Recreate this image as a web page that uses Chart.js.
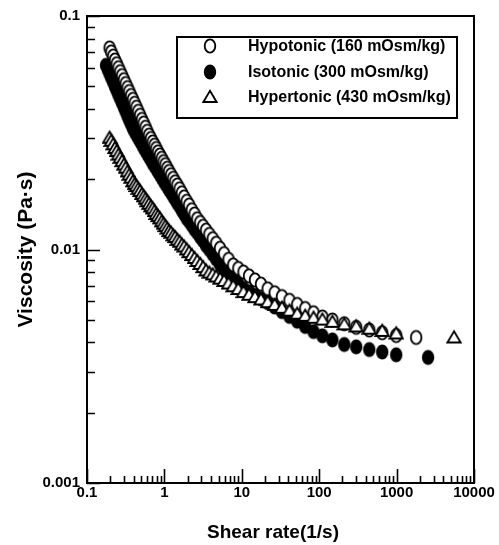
<!DOCTYPE html>
<html>
<head>
<meta charset="utf-8">
<script src="https://cdn.jsdelivr.net/npm/chart.js@4/dist/chart.umd.min.js"></script>
<style>
html,body{margin:0;padding:0;background:#fff;}
#wrap{position:relative;width:499px;height:545px;}
canvas{display:block;}
</style>
</head>
<body>
<div id="wrap"><canvas id="c" width="499" height="545"></canvas></div>
<script>
// ---- data ----
const shearRate = [0.196,0.206,0.218,0.230,0.242,0.255,0.269,0.284,0.300,0.316,
  0.334,0.352,0.371,0.392,0.413,0.436,0.460,0.485,0.512,0.540,
  0.570,0.601,0.634,0.669,0.706,0.745,0.786,0.829,0.875,0.923,
  0.974,1.03,1.09,1.15,1.22,1.30,1.38,1.47,1.57,1.68,
  1.80,1.94,2.09,2.26,2.45,2.66,2.90,3.16,3.46,3.81,
  4.21,4.67,5.23,5.91,6.74,7.75,9.0,10.5,12.4,14.8,
  17.7,21.6,26.6,33.0,41.3,52.0,66.0,84.5,110,148,
  211,301,444,652,988];

const hypotonicVisc = [0.0730,0.0702,0.0674,0.0648,0.0625,0.0601,0.0578,0.0556,0.0534,0.0514,
  0.0494,0.0475,0.0457,0.0440,0.0423,0.0407,0.0391,0.0376,0.0361,0.0348,
  0.0334,0.0321,0.0309,0.0299,0.0289,0.0280,0.0271,0.0262,0.0254,0.0246,
  0.0238,0.0231,0.0223,0.0216,0.0209,0.0202,0.0195,0.0189,0.0182,0.0175,
  0.0168,0.0161,0.0155,0.0148,0.0142,0.01355,0.01306,0.01258,0.01211,0.01161,
  0.01113,0.01064,0.01013,0.00961,0.00908,0.00859,0.00830,0.00801,0.00771,0.00741,
  0.00711,0.00679,0.00653,0.00629,0.00606,0.00582,0.00559,0.00536,0.00514,0.00499,
  0.00481,0.00464,0.00452,0.00440,0.00428];

const isotonicVisc = [0.0566,0.0544,0.0521,0.0499,0.0480,0.0460,0.0442,0.0424,0.0406,0.0390,
  0.0373,0.0358,0.0344,0.0330,0.0320,0.0310,0.0300,0.0291,0.0282,0.0273,
  0.0265,0.0257,0.0249,0.0242,0.0234,0.0228,0.0222,0.0215,0.0209,0.0203,
  0.0197,0.0191,0.0186,0.0180,0.0175,0.0169,0.0164,0.0158,0.0153,0.0147,
  0.0142,0.0136,0.0132,0.0127,0.0122,0.0118,0.0113,0.0109,0.0104,0.00999,
  0.00954,0.00909,0.00863,0.00820,0.00785,0.00750,0.00714,0.00681,0.00659,0.00637,
  0.00615,0.00592,0.00567,0.00542,0.00517,0.00493,0.00468,0.00445,0.00427,0.00410,
  0.00392,0.00383,0.00373,0.00364,0.00354];

const hypertonicVisc = [0.0301,0.0292,0.0282,0.0272,0.0264,0.0255,0.0247,0.0239,0.0231,0.0224,
  0.0216,0.0209,0.0203,0.0196,0.0191,0.0187,0.0182,0.0178,0.0173,0.0169,
  0.0165,0.0161,0.0157,0.0153,0.0150,0.0146,0.0142,0.0139,0.0136,0.0132,
  0.0129,0.0126,0.0123,0.0120,0.0118,0.0115,0.0113,0.0110,0.0108,0.0105,
  0.0103,0.0100,0.00974,0.00947,0.00920,0.00893,0.00867,0.00840,0.00813,0.00796,
  0.00782,0.00766,0.00750,0.00733,0.00715,0.00696,0.00677,0.00657,0.00640,0.00625,
  0.00611,0.00595,0.00579,0.00563,0.00547,0.00531,0.00520,0.00510,0.00501,0.00490,
  0.00478,0.00468,0.00458,0.00448,0.00437];

// extra isotonic points at the lowest rates
const isotonicLowRate = [0.176, 0.186];
const isotonicLowVisc = [0.0615, 0.0589];
// single last point of each series (hypotonic, isotonic, hypertonic)
const finalRate = [1790, 2550, 5520];
const finalVisc = [0.00420, 0.00345, 0.00420];

const seriesLabels = ['Hypotonic (160 mOsm/kg)', 'Isotonic (300 mOsm/kg)', 'Hypertonic (430 mOsm/kg)'];
const xTickValues = [0.1, 1, 10, 100, 1000, 10000];
const yTickValues = [0.001, 0.01, 0.1];
const minorSteps = [2, 3, 4, 5, 6, 7, 8, 9];

// ---- build points ----
function pts(xs, ys) { return xs.map((x, i) => ({x: x, y: ys[i]})); }
const hypoPts = pts(shearRate, hypotonicVisc).concat(pts([finalRate[0]], [finalVisc[0]]));
const isoPts = pts(isotonicLowRate, isotonicLowVisc).concat(pts(shearRate, isotonicVisc), pts([finalRate[1]], [finalVisc[1]]));
const hyperPts = pts(shearRate, hypertonicVisc).concat(pts([finalRate[2]], [finalVisc[2]]));

const FONT = '"Liberation Sans", Arial, Helvetica, sans-serif';

// ---- marker images (slightly tall ellipses as in the scan) ----
function makeMarker(kind) {
  const c = document.createElement('canvas');
  const W = 16, H = 18;
  c.width = W; c.height = H;
  const g = c.getContext('2d');
  g.lineWidth = 1.8;
  g.strokeStyle = '#000';
  if (kind === 'open') {
    g.beginPath(); g.ellipse(W / 2, H / 2, 5.3, 6.6, 0, 0, Math.PI * 2);
    g.fillStyle = '#fff'; g.fill(); g.stroke();
  } else if (kind === 'filled') {
    g.beginPath(); g.ellipse(W / 2, H / 2, 6.2, 7.4, 0, 0, Math.PI * 2);
    g.fillStyle = '#000'; g.fill();
  } else {
    g.beginPath();
    g.moveTo(W / 2, H / 2 - 6.2);
    g.lineTo(W / 2 + 6.6, H / 2 + 5.0);
    g.lineTo(W / 2 - 6.6, H / 2 + 5.0);
    g.closePath();
    g.fillStyle = '#fff'; g.fill(); g.stroke();
  }
  return c;
}
const markerOpen = makeMarker('open');
const markerFilled = makeMarker('filled');
const markerTri = makeMarker('tri');

function isDecade(v) { const l = Math.log10(v); return Math.abs(l - Math.round(l)) < 1e-6; }
function decadeLabel(v, list) {
  if (!isDecade(v)) return '';
  const hit = list.find(t => Math.abs(Math.log10(t) - Math.log10(v)) < 1e-6);
  return hit === undefined ? '' : String(hit);
}

const frameTicks = {
  id: 'frameTicks',
  afterDatasetsDraw(chart) {
    const ctx = chart.ctx, a = chart.chartArea;
    const xs = chart.scales.x, ys = chart.scales.y;
    ctx.save();
    ctx.strokeStyle = '#000';
    ctx.lineWidth = 1.6;
    ctx.beginPath();
    xTickValues.forEach((d, i) => {
      let p = Math.round(xs.getPixelForValue(d)) + 0.5;
      ctx.moveTo(p, a.bottom); ctx.lineTo(p, a.bottom - 14);
      if (i < xTickValues.length - 1) minorSteps.forEach(m => {
        p = Math.round(xs.getPixelForValue(d * m)) + 0.5;
        ctx.moveTo(p, a.bottom); ctx.lineTo(p, a.bottom - 7);
      });
    });
    yTickValues.forEach((d, i) => {
      let p = Math.round(ys.getPixelForValue(d)) + 0.5;
      ctx.moveTo(a.left, p); ctx.lineTo(a.left + 13, p);
      if (i < yTickValues.length - 1) minorSteps.forEach(m => {
        p = Math.round(ys.getPixelForValue(d * m)) + 0.5;
        ctx.moveTo(a.left, p); ctx.lineTo(a.left + 8, p);
      });
    });
    ctx.stroke();
    ctx.lineWidth = 2;
    ctx.strokeRect(a.left, a.top, a.right - a.left, a.bottom - a.top);
    // x axis title
    ctx.fillStyle = '#000';
    ctx.font = 'bold 19px ' + FONT;
    ctx.textAlign = 'center';
    ctx.textBaseline = 'middle';
    ctx.fillText('Shear rate(1/s)', 273, 533);
    ctx.restore();
  }
};

const boxLegend = {
  id: 'boxLegend',
  afterDraw(chart) {
    const ctx = chart.ctx;
    const L = 177, T = 37, R = 457, B = 118;
    ctx.save();
    ctx.fillStyle = '#fff';
    ctx.fillRect(L, T, R - L, B - T);
    ctx.lineWidth = 2;
    ctx.strokeStyle = '#000';
    ctx.strokeRect(L, T, R - L, B - T);
    const rows = [46, 72, 97];
    chart.data.datasets.forEach((ds, i) => {
      const img = ds.pointStyle;
      ctx.drawImage(img, 210 - img.width / 2, rows[i] - img.height / 2);
      ctx.fillStyle = '#000';
      ctx.font = 'bold 16px ' + FONT;
      ctx.textBaseline = 'middle';
      ctx.textAlign = 'left';
      ctx.fillText(ds.label, 248, rows[i] + 1);
    });
    ctx.restore();
  }
};

new Chart(document.getElementById('c'), {
  type: 'scatter',
  data: {
    datasets: [
      { label: seriesLabels[0], data: hypoPts, pointStyle: markerOpen, pointRadius: 7, order: 1 },
      { label: seriesLabels[1], data: isoPts, pointStyle: markerFilled, pointRadius: 7, order: 2 },
      { label: seriesLabels[2], data: hyperPts, pointStyle: markerTri, pointRadius: 7, order: 0 }
    ]
  },
  options: {
    responsive: false,
    animation: false,
    devicePixelRatio: 1,
    events: [],
    layout: { padding: { left: 11, top: 14, right: 25, bottom: 0 } },
    plugins: { legend: { display: false }, tooltip: { enabled: false } },
    scales: {
      x: {
        type: 'logarithmic', position: 'bottom', min: 0.1, max: 10000,
        grid: { display: false, drawTicks: false }, border: { display: false },
        ticks: { autoSkip: false, maxRotation: 0, padding: 1, color: '#000',
          font: { family: FONT, size: 15, weight: 'bold' },
          callback: v => decadeLabel(v, xTickValues) },
        title: { display: false },
        afterFit: s => { s.height = 62; }
      },
      y: {
        type: 'logarithmic', position: 'left', min: 0.001, max: 0.1,
        grid: { display: false, drawTicks: false }, border: { display: false },
        ticks: { autoSkip: false, padding: 7, color: '#000',
          font: { family: FONT, size: 15, weight: 'bold' },
          callback: v => decadeLabel(v, yTickValues) },
        title: { display: true, text: 'Viscosity (Pa·s)', color: '#000',
          font: { family: FONT, size: 21, weight: 'bold' }, padding: { top: 3, bottom: 0 } },
        afterFit: s => { s.width = 76; }
      }
    }
  },
  plugins: [frameTicks, boxLegend]
});
</script>
</body>
</html>
